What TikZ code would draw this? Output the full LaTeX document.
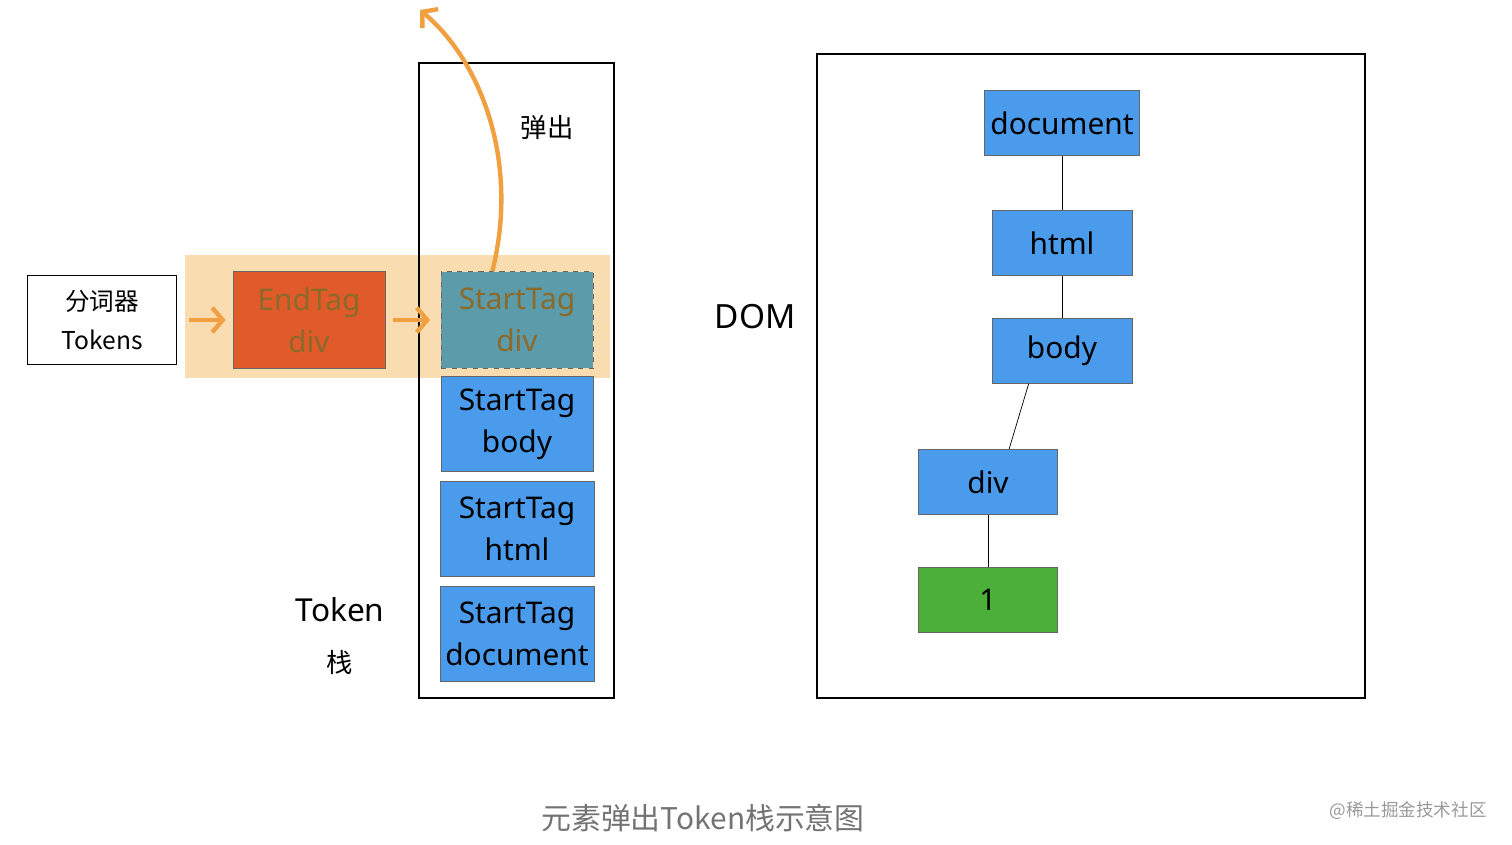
\documentclass[tikz,border=0pt]{standalone}
\usepackage{fontspec}
\setmainfont{Noto Sans}
\newfontfamily\cjk{Noto Sans CJK SC}
\usepackage{tikz}
\usetikzlibrary{arrows.meta, positioning}
\definecolor{tagblue}{HTML}{4A9BEB}
\definecolor{tagred}{HTML}{E05A2A}
\definecolor{tagteal}{HTML}{5B9BAA}
\definecolor{tagtext}{HTML}{8B6A2A}
\definecolor{leafgreen}{HTML}{4CAF3A}
\definecolor{popband}{HTML}{F9DDB1}
\definecolor{poporange}{HTML}{F0A040}

\begin{document}
\begin{tikzpicture}[x=0.02cm,y=-0.02cm,
        tag/.style={draw=black!60,fill=tagblue,minimum width=4.3cm,minimum height=1.9cm,
          align=center,font=\fontsize{17}{24}\selectfont,inner sep=0pt},
        domnode/.style={draw=black!60,fill=tagblue,minimum height=1.3cm,
          font=\fontsize{17}{20}\selectfont,inner sep=0pt},
        flow/.style={line width=2.5pt,draw=poporange,-{Straight Barb[length=6pt,width=14pt]}}]
    \useasboundingbox (0,0) rectangle (1512,845);

    % highlighted band
    \fill[popband] (185,255) rectangle (610,378);

    % stack frame
    \draw[line width=1.2pt] (419,63) rectangle (614,698);
    \node[font=\cjk\fontsize{15}{18}\selectfont] (pop) at (547,127) {弹出};
    \node[font=\fontsize{18}{20}\selectfont] (tok) at (340,610) {Token};
    \node[font=\cjk\fontsize{15}{18}\selectfont] (stk) at (340,662) {栈};

    % tokenizer and tokens
    \node[draw,fill=white,minimum width=2.98cm,minimum height=1.78cm,align=center,
          font=\cjk\fontsize{14}{22}\selectfont,inner sep=0pt] (lexer) at (102,320) {分词器\\Tokens};
    \node[tag,fill=tagred,text=tagtext,minimum width=3.04cm,minimum height=1.94cm] (endtag) at (309,320) {EndTag\\div};
    \node[tag,fill=tagteal,text=tagtext,dashed,minimum width=3.04cm,minimum height=1.94cm] (sdiv) at (517,320) {StartTag\\div};
    \node[tag,minimum width=3.04cm] (sbody) at (517,424) {StartTag\\body};
    \node[tag,minimum width=3.08cm] (shtml) at (517,529) {StartTag\\html};
    \node[tag,minimum width=3.08cm] (sdoc) at (517,634) {StartTag\\document};

    \coordinate (popout) at (420,10);
    \draw[flow] (lexer.east) ++(12,0) -- ([xshift=-4]endtag.west);
    \draw[flow] (endtag.east) ++(8,0) -- ([xshift=-6]sdiv.west);
    \draw[flow] ([xshift=-14]sdiv.north) .. controls (520,160) and (480,60) .. (popout);

    % DOM tree
    \draw[line width=1.2pt] (817,54) rectangle (1365,698);
    \node[font=\fontsize{19}{22}\selectfont] (dom) at (755,317) {DOM};
    \node[domnode,minimum width=3.1cm] (ddoc) at (1062,123) {document};
    \node[domnode,minimum width=2.8cm] (dhtml) at (1062,243) {html};
    \node[domnode,minimum width=2.8cm] (dbody) at (1062,351) {body};
    \node[domnode,minimum width=2.78cm] (ddiv) at (988,482) {div};
    \node[domnode,minimum width=2.78cm,fill=leafgreen] (dtext) at (988,600) {1};
    \draw (ddoc) -- (dhtml);
    \draw (dhtml) -- (dbody);
    \draw ([xshift=-19]dbody.south) -- ([xshift=12]ddiv.north);
    \draw (ddiv) -- (dtext);

    % caption
    \node[font=\cjk\fontsize{17}{20}\selectfont,text=black!55] (cap) at (703,818) {元素弹出Token栈示意图};
    \node[font=\cjk\fontsize{10}{12}\selectfont,text=black!40] (mark) at (1408,811) {@稀土掘金技术社区};
\end{tikzpicture}
\end{document}
